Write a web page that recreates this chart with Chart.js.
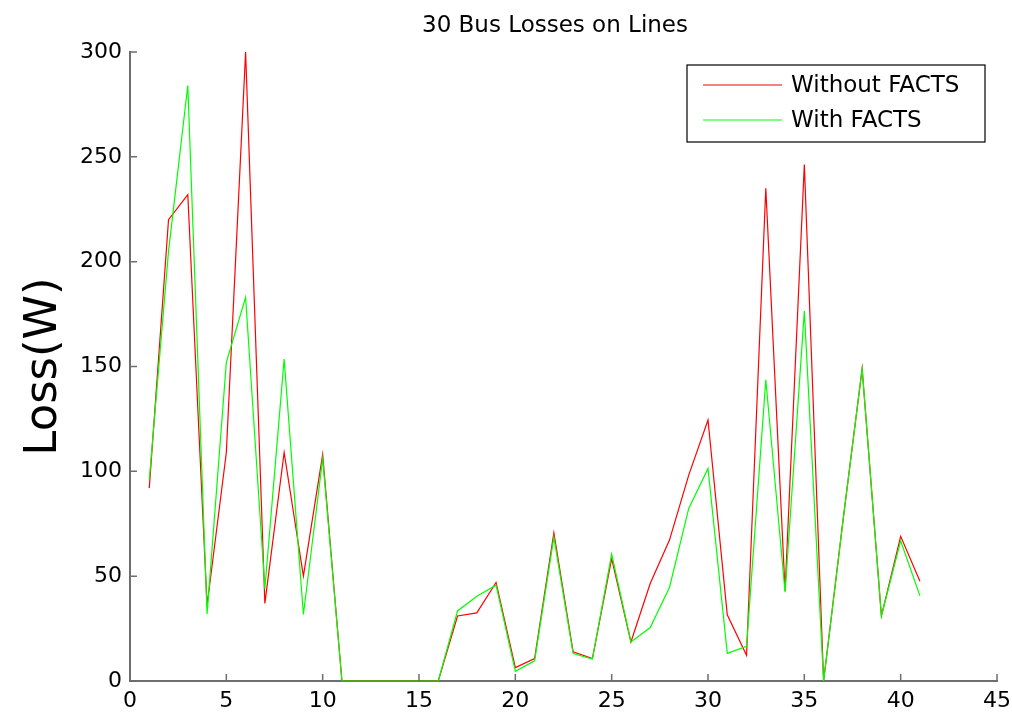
<!DOCTYPE html>
<html>
<head>
<meta charset="utf-8">
<title>30 Bus Losses on Lines</title>
<script src="https://cdn.jsdelivr.net/npm/chart.js@4.4.1/dist/chart.umd.min.js"></script>
<style>
  html, body { margin: 0; padding: 0; background: #fff; overflow: hidden; }
  #wrap { width: 1012px; height: 724px; }
</style>
</head>
<body>
<div id="wrap"><canvas id="lossChart" width="1012" height="724"></canvas></div>
<script>
// line numbers 1..41
const lineNo = [1,2,3,4,5,6,7,8,9,10,11,12,13,14,15,16,17,18,19,20,
  21,22,23,24,25,26,27,28,29,30,31,32,33,34,35,36,37,38,39,40,41];

const withoutFacts = [92, 220, 232, 36, 109, 300, 37, 109, 50, 108,
  0, 0, 0, 0, 0, 0,
  31, 32.5, 47, 6.4, 10.7, 70.7, 13.9, 10.7, 58.4, 18.6, 46.5, 67.2, 98.2, 124.5,
  31.6, 12.3, 235, 43, 246.3, 0, 76, 149, 31, 69, 47.6];

const withFacts = [96, 205, 284, 32, 152, 183, 44, 153.5, 31.7, 106,
  0, 0, 0, 0, 0, 0,
  33.4, 40.4, 45.7, 4.6, 9.6, 68.5, 13.1, 10.5, 60.5, 18.6, 25.5, 44.6, 82.3, 101.4,
  13.2, 16.5, 143.7, 42.3, 176.4, 0, 76, 149, 31, 66.9, 40.6];

const seriesNames = ['Without FACTS', 'With FACTS'];
const xTicks = [0, 5, 10, 15, 20, 25, 30, 35, 40, 45];
const yTicks = [0, 50, 100, 150, 200, 250, 300];

const FONT = '"DejaVu Sans", "Liberation Sans", Arial, sans-serif';
const AXIS = '#6e6e6e';

const toPoints = ys => ys.map((y, i) => ({ x: lineNo[i], y: y }));

// matlab style: ticks inside the axes, title, boxed legend
const matlabBits = {
  id: 'matlabBits',
  afterDraw(chart) {
    const { ctx, chartArea: a, scales } = chart;
    ctx.save();
    ctx.strokeStyle = AXIS;
    ctx.lineWidth = 1.5;
    ctx.beginPath();
    xTicks.forEach(t => {
      const px = scales.x.getPixelForValue(t);
      ctx.moveTo(px, a.bottom);
      ctx.lineTo(px, a.bottom - 7);
    });
    yTicks.forEach(t => {
      const py = scales.y.getPixelForValue(t);
      ctx.moveTo(a.left, py);
      ctx.lineTo(a.left + 7, py);
    });
    ctx.stroke();

    // title
    ctx.fillStyle = '#000';
    ctx.font = '23px ' + FONT;
    ctx.textAlign = 'center';
    ctx.textBaseline = 'middle';
    ctx.fillText('30 Bus Losses on Lines', 555, 26);

    // legend
    const bx = 687, by = 65, bw = 298, bh = 77;
    ctx.fillStyle = '#fff';
    ctx.fillRect(bx, by, bw, bh);
    ctx.strokeStyle = '#000';
    ctx.lineWidth = 1.2;
    ctx.strokeRect(bx, by, bw, bh);
    ctx.font = '23px ' + FONT;
    ctx.textAlign = 'left';
    chart.data.datasets.forEach((ds, i) => {
      const yy = by + 20 + i * 35;
      ctx.strokeStyle = ds.borderColor;
      ctx.lineWidth = 1;
      ctx.beginPath();
      ctx.moveTo(703, yy);
      ctx.lineTo(782, yy);
      ctx.stroke();
      ctx.fillStyle = '#000';
      ctx.fillText(ds.label, 791, yy + 1);
    });
    ctx.restore();
  }
};

new Chart(document.getElementById('lossChart'), {
  type: 'line',
  data: {
    datasets: [
      { label: seriesNames[0], data: toPoints(withoutFacts), borderColor: '#ff0000',
        borderWidth: 1.2, pointRadius: 0, tension: 0, order: 1, clip: false },
      { label: seriesNames[1], data: toPoints(withFacts), borderColor: '#00ff00',
        borderWidth: 1.2, pointRadius: 0, tension: 0, order: 0, clip: false }
    ]
  },
  options: {
    responsive: false,
    animation: false,
    layout: { padding: { top: 52, right: 15, left: 0, bottom: 0 } },
    plugins: { legend: { display: false }, tooltip: { enabled: false }, title: { display: false } },
    scales: {
      x: {
        type: 'linear', min: 0, max: 45,
        afterFit: s => { s.height = 43; s.paddingRight = 0; s.paddingLeft = 0; },
        afterBuildTicks: s => { s.ticks = xTicks.map(v => ({ value: v })); },
        grid: { display: false, drawTicks: false },
        border: { display: true, color: AXIS, width: 2 },
        ticks: { color: '#000', font: { family: FONT, size: 22 }, padding: 7, maxRotation: 0 }
      },
      y: {
        min: 0, max: 300,
        afterFit: s => { s.width = 130; },
        afterBuildTicks: s => { s.ticks = yTicks.map(v => ({ value: v })); },
        grid: { display: false, drawTicks: false },
        border: { display: true, color: AXIS, width: 2 },
        ticks: { color: '#000', font: { family: FONT, size: 22 }, padding: 8 },
        title: { display: true, text: 'Loss(W)', color: '#000',
          font: { family: FONT, size: 45, lineHeight: 1 }, padding: { top: 22, bottom: 0 } }
      }
    }
  },
  plugins: [matlabBits]
});
</script>
</body>
</html>
